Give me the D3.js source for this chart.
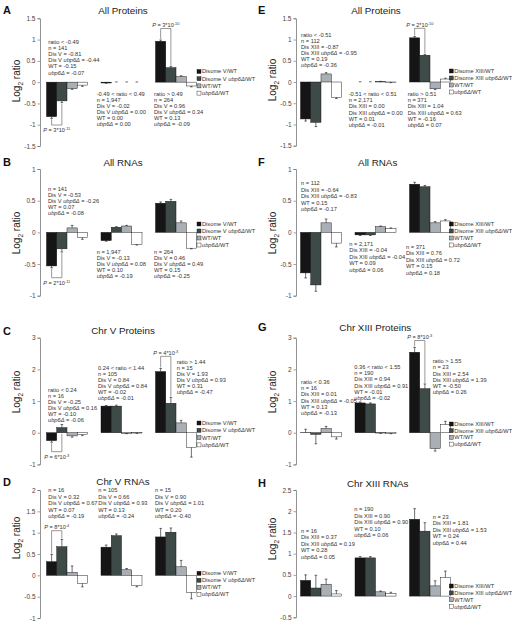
<!DOCTYPE html>
<html><head><meta charset="utf-8">
<script src="https://cdn.jsdelivr.net/npm/d3@7"></script>
<style>
body{margin:0;background:#fff}
svg{display:block}
text{font-family:"Liberation Sans",Arial,Helvetica,sans-serif}
</style>
</head><body>
<svg id="chart" width="512" height="625"></svg>
<script>
// ---------- DATA ----------
const seriesV = ["Disome V/WT", "Disome V ubp6Δ/WT", "WT/WT", "ubp6Δ/WT"];
const seriesXIII = ["Disome XIII/WT", "Disome XIII ubp6Δ/WT", "WT/WT", "ubp6Δ/WT"];
const barColors = ["#151515", "#3e4a48", "#a9afb5", "#ffffff"];

const valuesA = [[-0.81,-0.44,-0.15,-0.07],[-0.02,0.00,0.00,0.00],[0.96,0.34,0.13,-0.09]];
const errorsA = [[0.04,0.04,0.02,0.03],[0.005,0.005,0.005,0.005],[0.03,0.03,0.02,0.02]];
const ticksA = [-1.5,-1,-0.5,0,0.5,1,1.5];
const notesA = [
 ["ratio < -0.49","n = 141","Dis V = -0.81","Dis V ubp6Δ = -0.44","WT = -0.15","ubp6Δ = -0.07"],
 ["-0.49 < ratio < 0.49","n = 1,947","Dis V = -0.02","Dis V ubp6Δ = 0.00","WT = 0.00","ubp6Δ = 0.00"],
 ["ratio > 0.49","n = 264","Dis V = 0.96","Dis V ubp6Δ = 0.34","WT = 0.13","ubp6Δ = -0.09"]];
const pvalA = [{g:2, side:"top", m:"3", e:"-10"}, {g:0, side:"bottom", m:"3", e:"-11"}];

const valuesB = [[-0.53,-0.26,0.07,-0.08],[-0.13,0.08,0.10,-0.19],[0.46,0.49,0.15,-0.25]];
const errorsB = [[0.03,0.05,0.04,0.03],[0.01,0.01,0.01,0.01],[0.02,0.03,0.03,0.01]];
const ticksB = [-1,-0.5,0,0.5,1];
const notesB = [
 ["n = 141","Dis V = -0.53","Dis V ubp6Δ = -0.26","WT = 0.07","ubp6Δ = -0.08"],
 ["n = 1,947","Dis V = -0.13","Dis V ubp6Δ = 0.08","WT = 0.10","ubp6Δ = -0.19"],
 ["n = 264","Dis V = 0.46","Dis V ubp6Δ = 0.49","WT = 0.15","ubp6Δ = -0.25"]];
const pvalB = [{g:0, side:"bottom", m:"2", e:"-11"}];

const valuesC = [[-0.25,0.16,-0.10,-0.06],[0.84,0.84,-0.02,-0.01],[1.93,0.93,0.31,-0.47]];
const errorsC = [[0.05,0.1,0.04,0.03],[0.02,0.03,0.01,0.01],[0.1,0.18,0.08,0.3]];
const ticksC = [-1,0,1,2,3];
const notesC = [
 ["ratio < 0.24","n = 16","Dis V = -0.25","Dis V ubp6Δ = 0.16","WT = -0.10","ubp6Δ = -0.06"],
 ["0.24 < ratio < 1.44","n = 105","Dis V = 0.84","Dis V ubp6Δ = 0.84","WT = -0.02","ubp6Δ = -0.01"],
 ["ratio > 1.44","n = 15","Dis V = 1.93","Dis V ubp6Δ = 0.93","WT = 0.31","ubp6Δ = -0.47"]];
const pvalC = [{g:2, side:"top", m:"4", e:"-3"}, {g:0, side:"bottom", m:"6", e:"-3"}];

const valuesD = [[0.32,0.67,0.07,-0.19],[0.66,0.93,0.13,-0.24],[0.90,1.01,0.20,-0.40]];
const errorsD = [[0.17,0.17,0.15,0.08],[0.05,0.04,0.03,0.03],[0.2,0.1,0.15,0.15]];
const ticksD = [-1,-0.5,0,0.5,1,1.5,2];
const notesD = [
 ["n = 16","Dis V = 0.32","Dis V ubp6Δ = 0.67","WT = 0.07","ubp6Δ = -0.19"],
 ["n = 105","Dis V = 0.66","Dis V ubp6Δ = 0.93","WT = 0.13","ubp6Δ = -0.24"],
 ["n = 15","Dis V = 0.90","Dis V ubp6Δ = 1.01","WT = 0.20","ubp6Δ = -0.40"]];
const pvalD = [{g:0, side:"top", m:"8", e:"-4"}];

const valuesE = [[-0.87,-0.95,0.19,-0.36],[0.00,0.00,0.01,-0.01],[1.04,0.63,-0.16,0.07]];
const errorsE = [[0.05,0.1,0.03,0.03],[0.005,0.005,0.005,0.005],[0.03,0.02,0.02,0.02]];
const ticksE = [-1.5,-1,-0.5,0,0.5,1,1.5];
const notesE = [
 ["ratio < -0.51","n = 112","Dis XIII = -0.87","Dis XIII ubp6Δ = -0.95","WT = 0.19","ubp6Δ = -0.36"],
 ["-0.51 < ratio < 0.51","n = 2,171","Dis XIII = 0.00","Dis XIII ubp6Δ = 0.00","WT = 0.01","ubp6Δ = -0.01"],
 ["ratio > 0.51","n = 371","Dis XIII = 1.04","Dis XIII ubp6Δ = 0.63","WT = -0.16","ubp6Δ = 0.07"]];
const pvalE = [{g:2, side:"top", m:"2", e:"-10"}];

const valuesF = [[-0.64,-0.83,0.15,-0.17],[-0.04,-0.04,0.09,0.06],[0.76,0.72,0.15,0.18]];
const errorsF = [[0.08,0.1,0.06,0.06],[0.01,0.01,0.01,0.01],[0.03,0.02,0.02,0.02]];
const ticksF = [-1,-0.5,0,0.5,1];
const notesF = [
 ["n = 112","Dis XIII = -0.64","Dis XIII ubp6Δ = -0.83","WT = 0.15","ubp6Δ = -0.17"],
 ["n = 2,171","Dis XIII = -0.04","Dis XIII ubp6Δ = -0.04","WT = 0.09","ubp6Δ = 0.06"],
 ["n = 371","Dis XIII = 0.76","Dis XIII ubp6Δ = 0.72","WT = 0.15","ubp6Δ = 0.18"]];
const pvalF = [];

const valuesG = [[0.01,-0.05,0.13,-0.13],[0.94,0.91,-0.01,-0.02],[2.54,1.39,-0.50,0.26]];
const errorsG = [[0.1,0.3,0.07,0.07],[0.03,0.03,0.01,0.01],[0.15,0.15,0.08,0.1]];
const ticksG = [-1,0,1,2,3];
const notesG = [
 ["ratio < 0.36","n = 16","Dis XIII = 0.01","Dis XIII ubp6Δ = -0.05","WT = 0.13","ubp6Δ = -0.13"],
 ["0.36 < ratio < 1.55","n = 190","Dis XIII = 0.94","Dis XIII ubp6Δ = 0.91","WT = -0.01","ubp6Δ = -0.02"],
 ["ratio > 1.55","n = 23","Dis XIII = 2.54","Dis XIII ubp6Δ = 1.39","WT = -0.50","ubp6Δ = 0.26"]];
const pvalG = [{g:2, side:"top", m:"8", e:"-3"}];

const valuesH = [[0.37,0.19,0.28,0.05],[0.90,0.90,0.10,0.06],[1.81,1.53,0.24,0.44]];
const errorsH = [[0.13,0.3,0.12,0.08],[0.03,0.03,0.02,0.03],[0.25,0.2,0.12,0.15]];
const ticksH = [-0.5,0,0.5,1,1.5,2,2.5];
const notesH = [
 ["n = 16","Dis XIII = 0.37","Dis XIII ubp6Δ = 0.19","WT = 0.28","ubp6Δ = 0.05"],
 ["n = 190","Dis XIII = 0.90","Dis XIII ubp6Δ = 0.90","WT = 0.10","ubp6Δ = 0.06"],
 ["n = 23","Dis XIII = 1.81","Dis XIII ubp6Δ = 1.53","WT = 0.24","ubp6Δ = 0.44"]];
const pvalH = [];

// ---------- LAYOUT ----------
const panels = [
 {letter:"A", title:"All Proteins", series:seriesV, values:valuesA, errors:errorsA, ticks:ticksA, notes:notesA, pvals:pvalA,
  L:{lx:3, ly:14, tx:123, ty:14, yl:[20,81], ax:40, yr:[146,18.3], gr:[46.5,196.5], lg:[197,71.5], lgs:7.2,
     np:[[48.3,42.3],[96.7,94],[154,94]], lh:6.05, pb:[28.5,125]}},
 {letter:"B", title:"All RNAs", series:seriesV, values:valuesB, errors:errorsB, ticks:ticksB, notes:notesB, pvals:pvalB,
  L:{lx:3, ly:166, tx:123, ty:166, yl:[20,233], ax:40, yr:[295.7,169], gr:[46.5,196.5], lg:[197,224], lgs:7,
     np:[[48,189.3],[96.7,251.7],[154,251.7]], lh:6, pb:[277.7]}},
 {letter:"C", title:"Chr V Proteins", series:seriesV, values:valuesC, errors:errorsC, ticks:ticksC, notes:notesC, pvals:pvalC,
  L:{lx:3, ly:335, tx:123, ty:334, yl:[20,392], ax:40, yr:[464.4,337.7], gr:[46.5,196.5], lg:[197,423], lgs:7.3,
     np:[[48,390],[98,367.7],[176.7,362.5]], lh:6, pb:[356.3,451.7]}},
 {letter:"D", title:"Chr V RNAs", series:seriesV, values:valuesD, errors:errorsD, ticks:ticksD, notes:notesD, pvals:pvalD,
  L:{lx:3, ly:486, tx:123, ty:485, yl:[20,538], ax:40, yr:[618,490], gr:[46.5,196.5], lg:[197,573.3], lgs:7,
     np:[[48.3,490],[98.3,490],[155,490]], lh:6.6, pb:[530.7]}},
 {letter:"E", title:"All Proteins", series:seriesXIII, values:valuesE, errors:errorsE, ticks:ticksE, notes:notesE, pvals:pvalE,
  L:{lx:258, ly:14, tx:376, ty:14, yl:[276,80], ax:296, yr:[145.7,18.3], gr:[300.5,450.5], lg:[449.3,71], lgs:7,
     np:[[301,35],[348.7,94.3],[407.7,94.3]], lh:6.1, pb:[28.3]}},
 {letter:"F", title:"All RNAs", series:seriesXIII, values:valuesF, errors:errorsF, ticks:ticksF, notes:notesF, pvals:pvalF,
  L:{lx:258, ly:166, tx:377.7, ty:166, yl:[276,233], ax:296, yr:[295.7,169], gr:[300.5,450.5], lg:[449.3,224], lgs:7,
     np:[[301,183.3],[349.3,244],[406,246.7]], lh:6.5, pb:[]}},
 {letter:"G", title:"Chr XIII Proteins", series:seriesXIII, values:valuesG, errors:errorsG, ticks:ticksG, notes:notesG, pvals:pvalG,
  L:{lx:258, ly:331, tx:375.3, ty:331, yl:[276,392], ax:296, yr:[464.4,337.7], gr:[300.5,450.5], lg:[449.3,424], lgs:6.7,
     np:[[301,381.7],[354.3,366.7],[432.7,361]], lh:6.3, pb:[340.5]}},
 {letter:"H", title:"Chr XIII RNAs", series:seriesXIII, values:valuesH, errors:errorsH, ticks:ticksH, notes:notesH, pvals:pvalH,
  L:{lx:258, ly:487, tx:377.7, ty:487, yl:[276,539], ax:296, yr:[617.3,490], gr:[300.5,450.5], lg:[449.3,586], lgs:6.9,
     np:[[301,531],[354.3,509.3],[432.7,516.7]], lh:6.5, pb:[]}}
];

// ---------- DRAW ----------
const svg = d3.select("#chart");
svg.append("rect").attr("width",512).attr("height",625).attr("fill","#fff");

function rich(sel, str) {
  str.split(/(ubp6Δ)/).forEach(p => {
    if (!p) return;
    const t = sel.append("tspan").text(p);
    if (p === "ubp6Δ") t.attr("font-style","italic");
  });
}

panels.forEach(P => {
  const L = P.L;
  const g = svg.append("g");
  const dom = d3.extent(P.ticks);
  const y = d3.scaleLinear().domain(dom).range(L.yr);
  const gx = d3.scaleBand().domain(d3.range(3)).range(L.gr).paddingInner(0.248).paddingOuter(0);
  const sx = d3.scaleBand().domain(d3.range(4)).range([0, gx.bandwidth()]);

  g.append("text").attr("x",L.lx).attr("y",L.ly).attr("font-size",11).attr("font-weight","bold").attr("fill","#111").text(P.letter);
  g.append("text").attr("x",L.tx).attr("y",L.ty).attr("text-anchor","middle").attr("font-size",9.8).attr("fill","#222").text(P.title);

  const yl = g.append("text").attr("transform",`translate(${L.yl[0]},${L.yl[1]}) rotate(-90)`)
    .attr("text-anchor","middle").attr("font-size",10).attr("fill","#222");
  yl.append("tspan").text("Log");
  yl.append("tspan").attr("font-size",6.5).attr("dy",2.5).text("2");
  yl.append("tspan").attr("dy",-2.5).text(" ratio");

  const axis = d3.axisLeft(y).tickValues(P.ticks).tickSize(2.5).tickPadding(2).tickFormat(d => String(d));
  const ag = g.append("g").attr("transform",`translate(${L.ax},0)`).call(axis);
  ag.select(".domain").attr("stroke","#888").attr("stroke-width",0.9);
  ag.selectAll(".tick line").attr("stroke","#666").attr("stroke-width",0.6);
  ag.selectAll(".tick text").attr("font-size",6.5).attr("fill","#444")
    .attr("font-family","'Liberation Sans',Arial,sans-serif");

  const y0 = y(0);
  P.values.forEach((grp, gi) => {
    grp.forEach((v, si) => {
      const x = gx(gi) + sx(si);
      const w = sx.bandwidth();
      g.append("rect").attr("x",x).attr("y",Math.min(y(v),y0)).attr("width",w)
        .attr("height",Math.abs(y(v)-y0)).attr("fill",barColors[si])
        .attr("stroke","#111").attr("stroke-width",0.45);
      const e = P.errors[gi][si];
      const end = v + (v < 0 ? -e : e);
      const cx = x + w/2;
      g.append("line").attr("x1",cx).attr("x2",cx).attr("y1",y(v)).attr("y2",y(end)).attr("stroke","#111").attr("stroke-width",0.6);
      g.append("line").attr("x1",cx-1.3).attr("x2",cx+1.3).attr("y1",y(end)).attr("y2",y(end)).attr("stroke","#111").attr("stroke-width",0.6);
    });
  });

  P.notes.forEach((lines, gi) => {
    const [nx, ny] = L.np[gi];
    lines.forEach((ln, li) => {
      const t = g.append("text").attr("x",nx).attr("y",ny + li*L.lh).attr("dy","0.35em")
        .attr("font-size",5.7).attr("fill","#333");
      rich(t, ln);
    });
  });

  P.pvals.forEach((pv, k) => {
    const by = L.pb[k];
    const vals = P.values[pv.g], errs = P.errors[pv.g];
    const ends = [0,1].map(si => {
      const v = vals[si], e = errs[si];
      if (pv.side === "top") return y(Math.max(0, v > 0 ? v + e : 0)) - 1;
      return y(Math.min(0, v < 0 ? v - e : 0)) + 1;
    });
    const xs = [0,1].map(si => gx(pv.g) + sx(si) + sx.bandwidth()/2);
    g.append("path").attr("d",`M${xs[0]},${ends[0]}V${by}H${xs[1]}V${ends[1]}`)
      .attr("fill","none").attr("stroke","#555").attr("stroke-width",0.6);
    const cx = (xs[0]+xs[1])/2;
    const ty = pv.side === "top" ? by - 1.5 : by + 7;
    const t = g.append("text").attr("x",cx).attr("y",ty).attr("text-anchor","middle").attr("font-size",5.6).attr("fill","#333");
    t.append("tspan").attr("font-style","italic").text("P");
    t.append("tspan").text(" = " + pv.m + "*10");
    t.append("tspan").attr("font-size",3.9).attr("dy",-2).text(pv.e);
  });

  P.series.forEach((s, si) => {
    const ly = L.lg[1] + si*L.lgs;
    g.append("rect").attr("x",L.lg[0]).attr("y",ly-2).attr("width",4).attr("height",4)
      .attr("fill",barColors[si]).attr("stroke","#111").attr("stroke-width",0.4);
    const t = g.append("text").attr("x",L.lg[0]+5).attr("y",ly).attr("dy","0.35em").attr("font-size",5.7).attr("fill","#333");
    rich(t, s);
  });
});
</script>
</body></html>
